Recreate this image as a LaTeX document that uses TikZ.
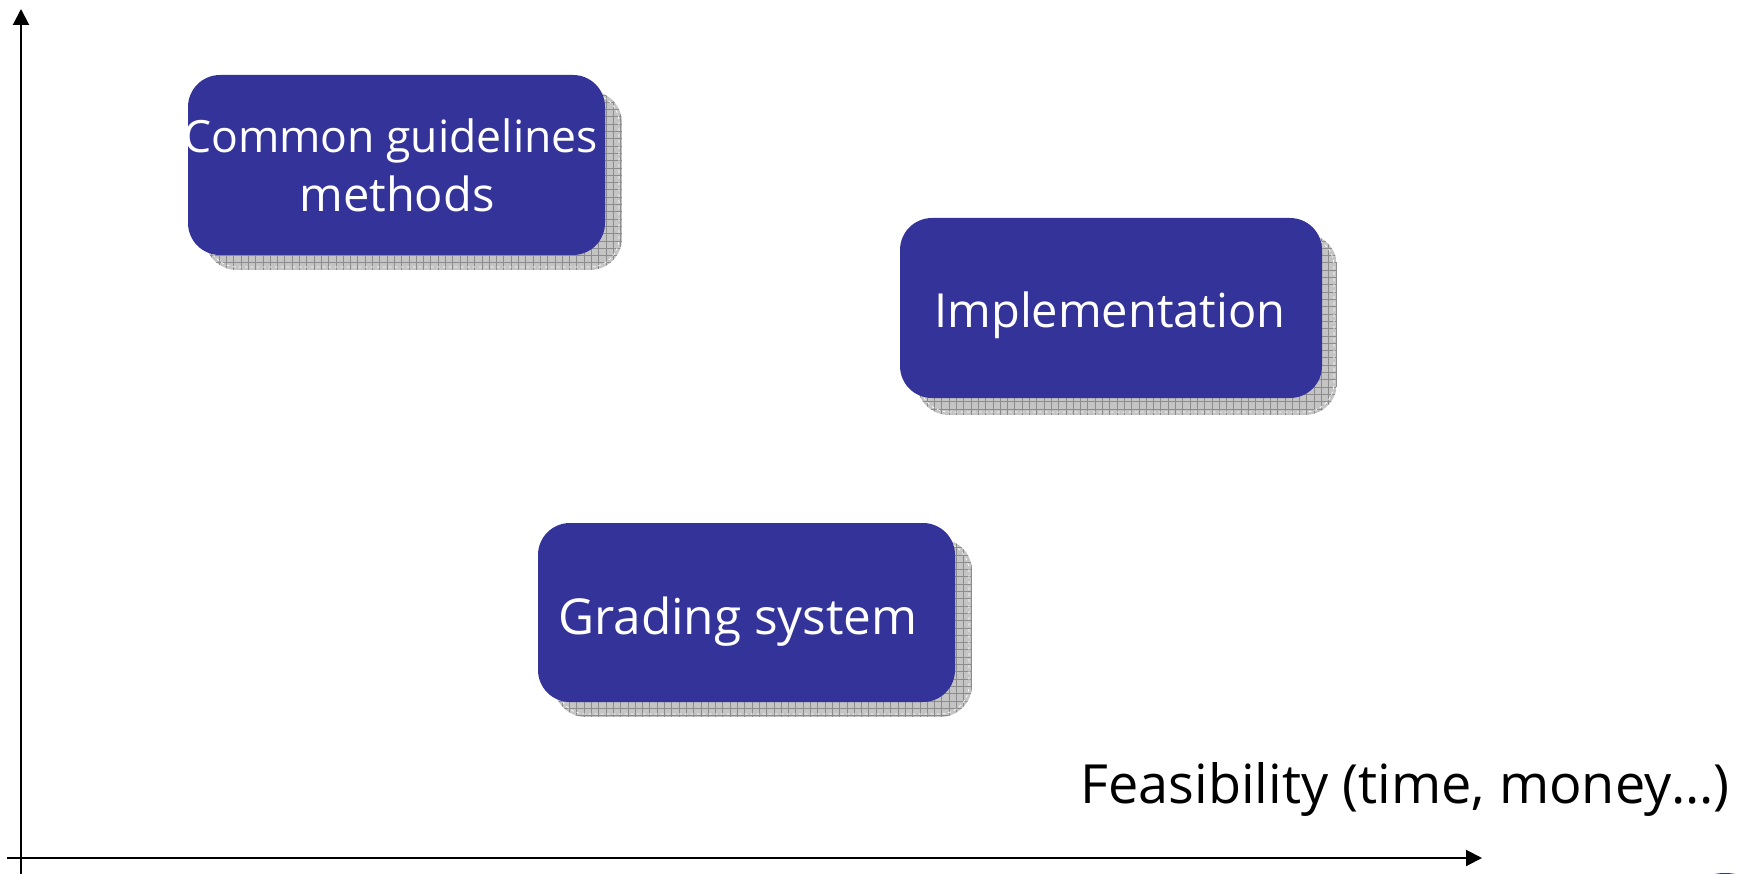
\documentclass[tikz,border=0pt]{standalone}
\usepackage{fontspec}
\setmainfont{Open Sans}
\usetikzlibrary{arrows.meta}
\definecolor{boxblue}{RGB}{51,51,153}
\definecolor{shadowgray}{RGB}{196,196,196}
\definecolor{gridgray}{RGB}{140,140,140}
\tikzset{
  bluebox/.style={fill=boxblue, draw=none, rounded corners=32pt, inner sep=0pt},
  boxtext/.style={text=white, inner sep=0pt, font=\fontsize{47}{56}\selectfont},
  axisline/.style={line width=2pt, -{Triangle[length=16pt,width=16pt]}},
  labeltext/.style={inner sep=0pt, font=\fontsize{54}{64}\selectfont},
  shadowfill/.style={fill=shadowgray},
  shadowgrid/.style={gridgray, line width=0.6pt, step=7.3pt},
  shadowedge/.style={white, dashed, line width=0.7pt, rounded corners=29pt},
}
\begin{document}
\begin{tikzpicture}[x=1pt,y=-1pt]
\useasboundingbox (0,0) rectangle (1739,874);
\fill[white] (0,0) rectangle (1739,874);

% shadows
\begin{scope}
  \path[clip, rounded corners=32pt] (205,91) rectangle (622,270);
  \fill[shadowfill] (205,91) rectangle (622,270);
  \draw[shadowgrid] (205,91) grid (622,270);
  \draw[shadowedge] (208,94) rectangle (619,267);
\end{scope}
\begin{scope}
  \path[clip, rounded corners=32pt] (917,234) rectangle (1337,415);
  \fill[shadowfill] (917,234) rectangle (1337,415);
  \draw[shadowgrid] (917,234) grid (1337,415);
  \draw[shadowedge] (920,237) rectangle (1334,412);
\end{scope}
\begin{scope}
  \path[clip, rounded corners=32pt] (554,539) rectangle (972,717);
  \fill[shadowfill] (554,539) rectangle (972,717);
  \draw[shadowgrid] (554,539) grid (972,717);
  \draw[shadowedge] (557,542) rectangle (969,714);
\end{scope}

% boxes
\node[bluebox, minimum width=417pt, minimum height=180pt] (cg) at (396.5,165) {};
\node[bluebox, minimum width=422pt, minimum height=180pt] (impl) at (1111,308) {};
\node[bluebox, minimum width=417pt, minimum height=179pt] (grad) at (746.5,612.5) {};

% box texts
\node[boxtext, font=\fontsize{44.5}{54}\selectfont, anchor=base east] (cg1) at (598,153) {Common guidelines};
\node[boxtext, anchor=base] (cg2) at (397,212) {methods};
\node[boxtext, anchor=base] (implt) at (1110,327) {Implementation};
\node[boxtext, font=\fontsize{49.5}{58}\selectfont, anchor=base] (gradt) at (738,634) {Grading system};

% axes
\coordinate (ybot) at (21,874);
\coordinate (ytop) at (21,9);
\coordinate (xleft) at (7,858);
\coordinate (xright) at (1482,858);
\draw[axisline] (ybot) -- (ytop);
\draw[axisline] (xleft) -- (xright);

\node[labeltext, anchor=base east] (feas) at (1730,803) {Feasibility (time, money…)};

% corner fragment
\fill[boxblue] (1725,889) ellipse [x radius=30pt, y radius=16pt];
\end{tikzpicture}
\end{document}
